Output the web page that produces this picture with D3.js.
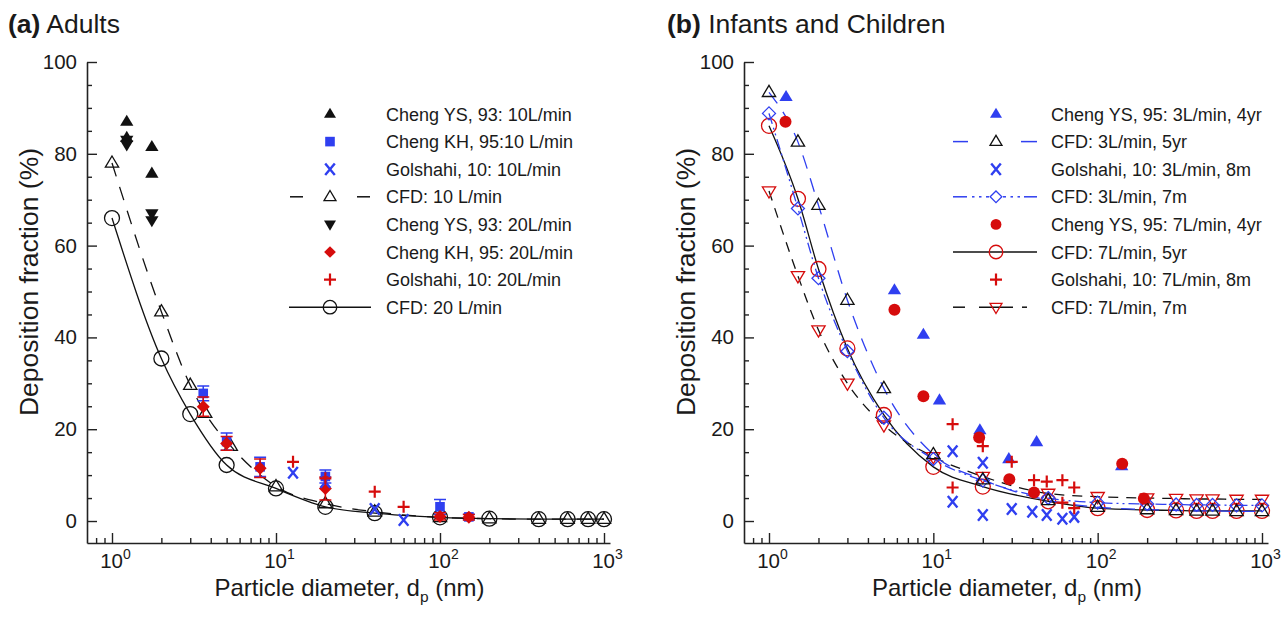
<!DOCTYPE html>
<html><head><meta charset="utf-8">
<script src="https://cdn.jsdelivr.net/npm/d3@7"></script>
<style>
body{margin:0;background:#fff;}
text{font-family:"Liberation Sans",Arial,sans-serif;fill:#1a1a1a;}
</style></head><body>
<svg id="chart" width="1286" height="618"></svg>
<script>
// ---------- DATA ----------
const yTicks = [0, 20, 40, 60, 80, 100];
const xTickExp = [0, 1, 2, 3];

// Panel (a) Adults
const a_cfdD = [1, 2, 3, 5, 10, 20, 40, 100, 200, 400, 600, 800, 1000];
const a_cfd10D = [1, 2, 3, 3.7, 5.3, 10, 20, 40, 100, 200, 400, 600, 800, 1000];
const a_cfd10 = [78, 45.6, 29.6, 23.5, 16.3, 7.5, 3.8, 2.0, 0.8, 0.5, 0.4, 0.4, 0.4, 0.4];
const a_cfd20 = [66, 35.4, 23.3, 12.2, 7.1, 3.1, 1.7, 0.8, 0.5, 0.4, 0.4, 0.4, 0.4];
const a_ys10D = [1.23, 1.23, 1.75, 1.75];
const a_ys10 = [87, 83.5, 81.5, 75.7];
const a_ys20D = [1.23, 1.23, 1.75, 1.75];
const a_ys20 = [83, 82, 67, 65.5];
const a_khD = [3.6, 5, 8, 20, 100, 150];
const a_kh10 = [27.8, 17.3, 11.8, 9.7, 3.1, 0.9];
const a_kh10Err = [1.6, 1.9, 2.1, 1.4, 1.6, 0.6];
const a_kh20 = [24.9, 16.9, 11.5, 7.1, 1.0, 0.8];
const a_kh20Err = [2.1, 1.5, 2.0, 2.5, 0.8, 0.6];
const a_gol10D = [12.7, 20, 40, 60];
const a_gol10 = [10.5, 8.5, 2.6, 0.2];
const a_gol20D = [12.7, 20, 40, 60];
const a_gol20 = [12.9, 9.3, 6.4, 3.1];

// Panel (b) Infants and Children
const b_cfdD = [1, 1.5, 2, 3, 5, 10, 20, 50, 100, 200, 300, 400, 500, 700, 1000];
const b_cfd3_5yr = [93.4, 82.6, 68.8, 48.1, 28.9, 14.5, 9.0, 4.5, 3.0, 2.5, 2.3, 2.2, 2.2, 2.1, 2.1];
const b_cfd3_7m = [88.8, 68.1, 52.9, 37.0, 22.5, 13.5, 8.8, 5.0, 4.0, 3.7, 3.6, 3.5, 3.5, 3.4, 3.4];
const b_cfd7_5yr = [86.1, 70.2, 54.9, 37.6, 23.1, 11.8, 7.5, 4.3, 2.8, 2.4, 2.3, 2.2, 2.2, 2.2, 2.2];
const b_cfd7_7m = [71.9, 53.4, 41.6, 30.0, 20.9, 14.0, 9.7, 6.0, 5.3, 5.0, 4.9, 4.8, 4.8, 4.7, 4.7];
const b_ys3D = [1.27, 5.8, 8.7, 10.9, 19.2, 28.8, 42.5, 140];
const b_ys3 = [92.4, 50.3, 40.6, 26.3, 19.8, 13.5, 17.2, 12.0];
const b_ys7D = [1.26, 5.8, 8.7, 19, 29, 41, 141, 191];
const b_ys7 = [87, 46, 27.2, 18.2, 9.1, 6.2, 12.5, 4.9];
const b_gol3D = [13.1, 13.1, 20, 20, 30, 40, 49, 61, 72];
const b_gol3 = [15.2, 4.2, 12.7, 1.3, 2.6, 2.0, 1.3, 0.5, 0.9];
const b_gol7D = [13.1, 13.1, 20, 30, 41, 49, 61, 61, 72, 72];
const b_gol7 = [21.1, 7.3, 16.3, 12.9, 8.9, 8.6, 8.9, 4.0, 7.3, 2.8];

const legendA = ["Cheng YS, 93: 10L/min", "Cheng KH, 95:10 L/min", "Golshahi, 10: 10L/min", "CFD: 10 L/min",
  "Cheng YS, 93: 20L/min", "Cheng KH, 95: 20L/min", "Golshahi, 10: 20L/min", "CFD: 20 L/min"];
const legendB = ["Cheng YS, 95: 3L/min, 4yr", "CFD: 3L/min, 5yr", "Golshahi, 10: 3L/min, 8m", "CFD: 3L/min, 7m",
  "Cheng YS, 95: 7L/min, 4yr", "CFD: 7L/min, 5yr", "Golshahi, 10: 7L/min, 8m", "CFD: 7L/min, 7m"];

// ---------- STYLE ----------
const BLUE = "#2f3ff0", RED = "#d60c0c", BLACK = "#111";
const svg = d3.select("#chart");
const zip = (xs, ys) => xs.map((d, i) => [d, ys[i]]);

function makePanel(cfg) {
  const g = svg.append("g");
  const x0 = d3.scaleLog().domain([1, 1000]).range([cfg.x1, cfg.x1000]);
  const x = d3.scaleLog().domain([x0.invert(cfg.left), x0.invert(cfg.right)]).range([cfg.left, cfg.right]);
  const y = d3.scaleLinear().domain([-4.79, 100]).range([543, 62]);
  const yMinor = d3.range(0, 101, 5).filter(v => v % 20 !== 0);
  g.append("g").attr("transform", `translate(${cfg.left},0)`)
    .call(d3.axisLeft(y).tickValues(yMinor).tickSize(-5).tickFormat("").tickSizeOuter(0))
    .call(s => s.select(".domain").remove());
  const ya = g.append("g").attr("transform", `translate(${cfg.left},0)`)
    .call(d3.axisLeft(y).tickValues(yTicks).tickSize(-10).tickPadding(10).tickSizeOuter(0));
  ya.selectAll("text").style("font-size", "20.5px").attr("fill", "#1a1a1a");
  const xMinor = [];
  [0.1, 1, 10, 100, 1000].forEach(dec => { for (let k = 2; k <= 9; k++) { const v = dec * k; if (v >= x.domain()[0] && v <= x.domain()[1]) xMinor.push(v); } });
  g.append("g").attr("transform", `translate(0,543)`)
    .call(d3.axisBottom(x).tickValues(xMinor).tickSize(-5).tickFormat("").tickSizeOuter(0))
    .call(s => s.select(".domain").remove());
  const xa = g.append("g").attr("transform", `translate(0,543)`)
    .call(d3.axisBottom(x).tickValues(xTickExp.map(e => Math.pow(10, e))).tickSize(-10).tickSizeOuter(0).tickFormat(""));
  xa.selectAll(".tick").each(function (d, i) {
    const t = d3.select(this).append("text").attr("x", 3).attr("y", 25).attr("text-anchor", "middle").style("font-size", "20.5px").attr("fill", "#1a1a1a");
    t.append("tspan").text("10");
    t.append("tspan").attr("dy", -9).style("font-size", "14px").text(xTickExp[i]);
  });
  g.selectAll(".domain").attr("stroke", "#222").attr("stroke-width", 1.6);
  g.selectAll(".tick line").attr("stroke", "#222").attr("stroke-width", 1.4);

  const xl = g.append("text").attr("x", (cfg.left + cfg.right) / 2 + 1).attr("y", 596).attr("text-anchor", "middle").style("font-size", "24px");
  xl.append("tspan").text("Particle diameter, d");
  xl.append("tspan").attr("dy", 6).style("font-size", "15.5px").text("p");
  xl.append("tspan").attr("dy", -6).text(" (nm)");
  g.append("text").attr("transform", `translate(${cfg.left - 49},${282}) rotate(-90)`).attr("text-anchor", "middle").style("font-size", "26.5px").text("Deposition fraction (%)");
  const tt = g.append("text").attr("x", cfg.titleX).attr("y", 33).style("font-size", "26.5px");
  tt.append("tspan").style("font-weight", "bold").text(cfg.tag);
  tt.append("tspan").text(" " + cfg.title);
  return { g, x, y };
}

function marker(sel, type, cx, cy, s) {
  s = s || 1;
  let el;
  switch (type.shape) {
    case "tri": { const r = 7 * s; el = sel.append("path").attr("d", `M${cx},${cy - r}L${cx + r * 0.95},${cy + r * 0.6}L${cx - r * 0.95},${cy + r * 0.6}Z`); break; }
    case "dtri": { const r = 7 * s; el = sel.append("path").attr("d", `M${cx},${cy + r}L${cx + r * 0.95},${cy - r * 0.6}L${cx - r * 0.95},${cy - r * 0.6}Z`); break; }
    case "circ": el = sel.append("circle").attr("cx", cx).attr("cy", cy).attr("r", 7.5 * s); break;
    case "dot": el = sel.append("circle").attr("cx", cx).attr("cy", cy).attr("r", 6 * s); break;
    case "sq": el = sel.append("rect").attr("x", cx - 4.8).attr("y", cy - 4.8).attr("width", 9.6).attr("height", 9.6); break;
    case "dia": { const r = 6.5 * s; el = sel.append("path").attr("d", `M${cx},${cy - r}L${cx + r},${cy}L${cx},${cy + r}L${cx - r},${cy}Z`); break; }
    case "x": { const r = 4.8; el = sel.append("path").attr("d", `M${cx - r},${cy - r * 1.2}L${cx + r},${cy + r * 1.2}M${cx + r},${cy - r * 1.2}L${cx - r},${cy + r * 1.2}`); break; }
    case "plus": { const r = 6; el = sel.append("path").attr("d", `M${cx - r},${cy}L${cx + r},${cy}M${cx},${cy - r}L${cx},${cy + r}`); break; }
  }
  el.attr("fill", type.fill || "none").attr("stroke", type.stroke || "none").attr("stroke-width", type.sw || 1.3);
}

const lineGen = (x, y) => d3.line().x(d => x(d[0])).y(d => y(d[1])).curve(d3.curveMonotoneX);

function drawSeries(p, s) {
  const pts = zip(s.d, s.v);
  if (s.line) {
    p.g.append("path").datum(pts).attr("d", lineGen(p.x, p.y)).attr("fill", "none")
      .attr("stroke", s.line.color).attr("stroke-width", s.line.w || 1.3).attr("stroke-dasharray", s.line.dash || null);
  }
  if (s.err) {
    pts.forEach((d, i) => {
      const cx = p.x(d[0]), y1 = p.y(d[1] + s.err[i]), y2 = p.y(d[1] - s.err[i]);
      p.g.append("path").attr("d", `M${cx},${y1}L${cx},${y2}M${cx - 6},${y1}L${cx + 6},${y1}M${cx - 6},${y2}L${cx + 6},${y2}`)
        .attr("stroke", s.m.errColor).attr("stroke-width", 1.5).attr("fill", "none");
    });
  }
  pts.forEach(d => marker(p.g, s.m, p.x(d[0]), p.y(d[1])));
}

function legend(p, items, mx, tx, y0, dy) {
  items.forEach((it, i) => {
    const yy = y0 + i * dy;
    if (it.segs) {
      it.segs.forEach(sg => p.g.append("line").attr("x1", mx + sg[0]).attr("x2", mx + sg[1]).attr("y1", yy).attr("y2", yy)
        .attr("stroke", it.line.color).attr("stroke-width", sg[2] || 1.5));
    }
    marker(p.g, it.m, mx, yy, 0.9);
    p.g.append("text").attr("x", tx).attr("y", yy + 6.5).style("font-size", "18px").text(it.label);
  });
}

// ---------- PANEL A ----------
const pA = makePanel({ left: 87, right: 610, x1: 112, x1000: 604, titleX: 8, tag: "(a)", title: "Adults" });
const sA = [
  { d: a_ys10D, v: a_ys10, m: { shape: "tri", fill: BLACK } },
  { d: a_khD, v: a_kh10, err: a_kh10Err, m: { shape: "sq", fill: BLUE, errColor: BLUE } },
  { d: a_gol10D, v: a_gol10, m: { shape: "x", stroke: BLUE, sw: 2.4 } },
  { d: a_cfd10D, v: a_cfd10, m: { shape: "tri", stroke: BLACK }, line: { color: BLACK, dash: "14,11" }, segs: [[-40, -27], [27, 40]] },
  { d: a_ys20D, v: a_ys20, m: { shape: "dtri", fill: BLACK } },
  { d: a_khD, v: a_kh20, err: a_kh20Err, m: { shape: "dia", fill: RED, errColor: RED } },
  { d: a_gol20D, v: a_gol20, m: { shape: "plus", stroke: RED, sw: 2.2 } },
  { d: a_cfdD, v: a_cfd20, m: { shape: "circ", stroke: BLACK }, line: { color: BLACK }, segs: [[-41, 41]] }
];
[7, 3, 1, 5, 0, 4, 2, 6].forEach(i => drawSeries(pA, sA[i]));
legend(pA, sA.map((s, i) => ({ ...s, label: legendA[i] })), 330, 386, 114, 27.6);

// ---------- PANEL B ----------
const pB = makePanel({ left: 744, right: 1268, x1: 769, x1000: 1262, titleX: 667, tag: "(b)", title: "Infants and Children" });
const sB = [
  { d: b_ys3D, v: b_ys3, m: { shape: "tri", fill: BLUE } },
  { d: b_cfdD, v: b_cfd3_5yr, m: { shape: "tri", stroke: BLACK }, line: { color: BLUE, dash: "14,10" }, segs: [[-43, -28], [25, 41]] },
  { d: b_gol3D, v: b_gol3, m: { shape: "x", stroke: BLUE, sw: 2.4 } },
  { d: b_cfdD, v: b_cfd3_7m, m: { shape: "dia", stroke: BLUE }, line: { color: BLUE, dash: "11,4,2,4,2,4" },
    segs: [[-43, -29], [-24, -21.5], [-17, -14.5], [-10, -7], [7, 10], [14.5, 17], [21.5, 24], [28, 41]] },
  { d: b_ys7D, v: b_ys7, m: { shape: "dot", fill: RED } },
  { d: b_cfdD, v: b_cfd7_5yr, m: { shape: "circ", stroke: RED }, line: { color: BLACK }, segs: [[-43, 41]] },
  { d: b_gol7D, v: b_gol7, m: { shape: "plus", stroke: RED, sw: 2.2 } },
  { d: b_cfdD, v: b_cfd7_7m, m: { shape: "dtri", stroke: RED }, line: { color: BLACK, dash: "10,8" },
    segs: [[-43, -31], [-17, 17], [26, 31]] }
];
[7, 5, 3, 1, 0, 4, 2, 6].forEach(i => drawSeries(pB, sB[i]));
legend(pB, sB.map((s, i) => ({ ...s, label: legendB[i] })), 996, 1051, 114, 27.6);
</script>
</body></html>
